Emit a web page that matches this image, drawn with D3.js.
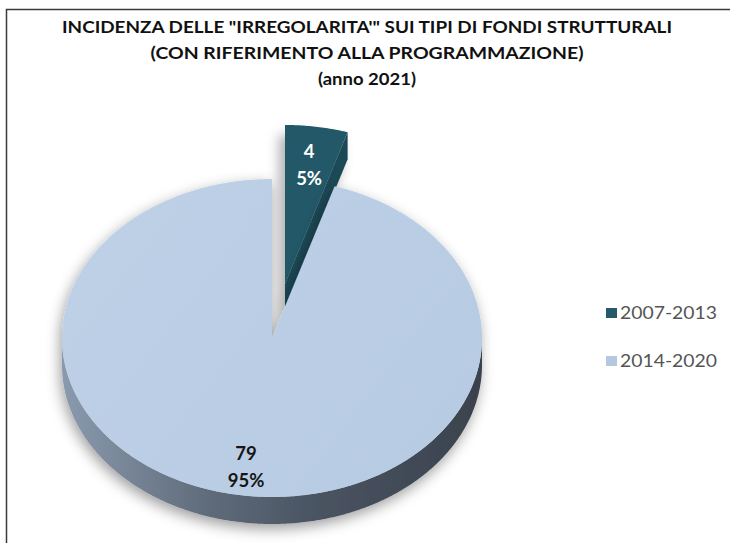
<!DOCTYPE html>
<html><head><meta charset="utf-8">
<script src="https://cdn.jsdelivr.net/npm/d3@7/dist/d3.min.js"></script>
<style>html,body{margin:0;padding:0;background:#fff;}svg{display:block;}</style>
</head><body>
<svg id="chart" width="730" height="543"></svg>
<script>
const titleLines = ['INCIDENZA DELLE "IRREGOLARITA\'"  SUI TIPI DI FONDI STRUTTURALI', '(CON RIFERIMENTO ALLA PROGRAMMAZIONE)', '(anno 2021)'];
const categories = ["2007-2013", "2014-2020"];
const values = [4, 79];
const sliceColors = ["#215868", "#b9cde5"];

const svg = d3.select("#chart");
const defs = svg.append("defs");

// border
svg.append("rect").attr("x", 6.5).attr("y", 9.5).attr("width", 740).attr("height", 560)
  .attr("fill", "#fff").attr("stroke", "#3a3a3a").attr("stroke-width", 1.5);

// title
const titleWidths = [610, 433, 98];
const titleBase = [33, 59, 85];
svg.append("g").selectAll("text").data(titleLines).join("text")
  .attr("x", 367).attr("y", (d, i) => titleBase[i])
  .attr("text-anchor", "middle")
  .attr("textLength", (d, i) => titleWidths[i]).attr("lengthAdjust", "spacingAndGlyphs")
  .style("font-family", "Lato, 'Open Sans', sans-serif").style("font-weight", 700).style("font-size", "17.5px")
  .style("fill", "#111").text(d => d);

// filters
const f1 = defs.append("filter").attr("id", "shBig").attr("x", "-20%").attr("y", "-20%").attr("width", "140%").attr("height", "140%");
f1.append("feDropShadow").attr("dx", -2).attr("dy", 5).attr("stdDeviation", 7).attr("flood-color", "#000").attr("flood-opacity", 0.38);
const f2 = defs.append("filter").attr("id", "shSmall").attr("x", "-60%").attr("y", "-30%").attr("width", "220%").attr("height", "160%");
f2.append("feDropShadow").attr("dx", -6).attr("dy", 10).attr("stdDeviation", 6).attr("flood-color", "#000").attr("flood-opacity", 0.3);

// gradients
const gSide = defs.append("linearGradient").attr("id", "sideGrad").attr("gradientUnits", "userSpaceOnUse")
  .attr("x1", 62).attr("y1", 0).attr("x2", 482).attr("y2", 0);
[["0%", "#8a9aae"], ["35%", "#5f6b7a"], ["60%", "#4a5462"], ["100%", "#3a424d"]]
  .forEach(s => gSide.append("stop").attr("offset", s[0]).attr("stop-color", s[1]));
const gTop = defs.append("linearGradient").attr("id", "topGrad").attr("gradientUnits", "userSpaceOnUse")
  .attr("x1", 62).attr("y1", 180).attr("x2", 482).attr("y2", 500);
[["0%", "#bed1e7"], ["100%", "#b6cae2"]].forEach(s => gTop.append("stop").attr("offset", s[0]).attr("stop-color", s[1]));

// geometry
const cx = 272, cy = 338, rx = 210, ry = 159, depth = 27;
const explode = [[13, -54], [0, 0]];
const labelR = [0.76, 0.82];

const pie = d3.pie().sort(null).value(d => d.value).startAngle(0).endAngle(2 * Math.PI);
const arcs = pie(categories.map((c, i) => ({ cat: c, value: values[i], i })));
const total = d3.sum(values);
const pct = d3.format(".0%");

function pt(a, r, o, dz) { return [cx + o[0] + r * rx * Math.sin(a), cy + o[1] - r * ry * Math.cos(a) + (dz || 0)]; }
function rim(a0, a1, o, dz) {
  const n = Math.max(2, Math.ceil(Math.abs(a1 - a0) / 0.01));
  return d3.range(n + 1).map(k => pt(a0 + (a1 - a0) * k / n, 1, o, dz));
}
const line = d3.line();
function topPath(d, o) { return line([pt(0, 0, o)].concat(rim(d.startAngle, d.endAngle, o))) + "Z"; }
function sidePath(d, o) {
  const a0 = Math.max(d.startAngle, Math.PI / 2), a1 = Math.min(d.endAngle, 3 * Math.PI / 2);
  if (a1 <= a0) return null;
  return line(rim(a0, a1, o, 0).concat(rim(a1, a0, o, depth))) + "Z";
}
function radialPath(a, o) {
  return line([pt(0, 0, o), pt(a, 1, o), pt(a, 1, o, depth), pt(0, 0, o, depth)]) + "Z";
}

// small exploded slice (behind)
const small = arcs[0], big = arcs[1];
const gs = svg.append("g").attr("filter", "url(#shSmall)");
gs.append("path").attr("d", radialPath(small.endAngle, explode[0])).attr("fill", "#1a4856");
gs.append("path").attr("d", topPath(small, explode[0])).attr("fill", sliceColors[0]);

// big slice
const gb = svg.append("g").attr("filter", "url(#shBig)");
gb.append("path").attr("d", sidePath(big, explode[1])).attr("fill", "url(#sideGrad)");
gb.append("path").attr("d", topPath(big, explode[1])).attr("fill", "url(#topGrad)");

// labels
const labelColors = ["#ffffff", "#161616"];
arcs.forEach((d, i) => {
  const mid = (d.startAngle + d.endAngle) / 2;
  const p = pt(mid, labelR[i], explode[i]);
  const t = svg.append("text").attr("x", p[0]).attr("text-anchor", "middle")
    .style("font-family", "Lato, 'Open Sans', sans-serif").style("font-weight", 700).style("font-size", "18.5px")
    .style("fill", labelColors[i]);
  t.append("tspan").attr("x", p[0]).attr("y", p[1] - 7).text(d.data.value);
  t.append("tspan").attr("x", p[0]).attr("y", p[1] + 20).text(pct(d.data.value / total));
});

// legend
const leg = svg.append("g").selectAll("g").data(categories).join("g")
  .attr("transform", (d, i) => `translate(606,${308 + i * 48})`);
const legColors = ["#245a6b", "#b4c9e1"];
leg.append("rect").attr("width", 11).attr("height", 10).attr("fill", (d, i) => legColors[i]);
leg.append("text").attr("x", 14).attr("y", 11).attr("textLength", 97).attr("lengthAdjust", "spacingAndGlyphs")
  .style("font-family", "Lato, 'Open Sans', sans-serif").style("font-size", "18px").style("fill", "#555")
  .text(d => d);
</script>
</body></html>
